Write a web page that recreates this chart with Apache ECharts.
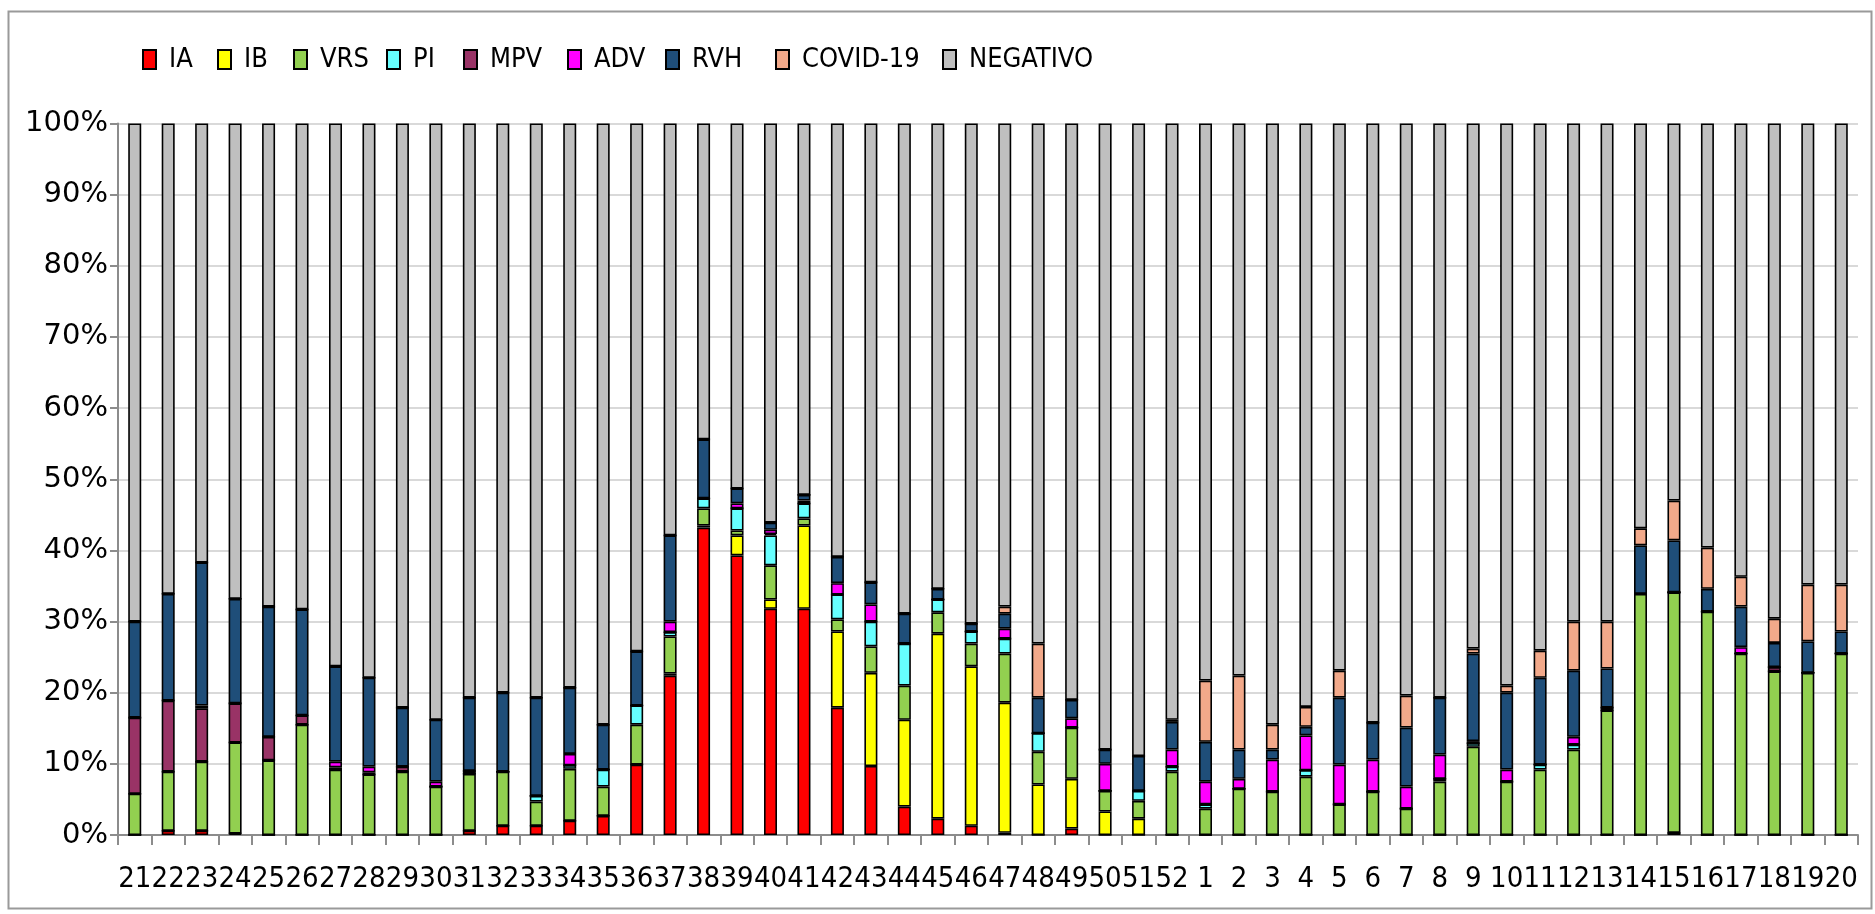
<!DOCTYPE html>
<html>
<head>
<meta charset="utf-8">
<script src="https://cdn.jsdelivr.net/npm/echarts/dist/echarts.min.js"></script>
<style>
html,body{margin:0;padding:0;background:#fff;}
#chart{width:1875px;height:914px;}
</style>
</head>
<body>
<div id="chart"></div>
<script>
var weeks = ['21','22','23','24','25','26','27','28','29','30','31','32','33','34','35','36','37','38','39','40','41','42','43','44','45','46','47','48','49','50','51','52','1','2','3','4','5','6','7','8','9','10','11','12','13','14','15','16','17','18','19','20'];

var IA = [0,0.6,0.6,0.2,0,0,0,0,0,0,0.6,1.3,1.3,2.0,2.7,9.9,22.4,43.2,39.3,31.8,31.8,17.9,9.7,4.0,2.3,1.3,0.3,0,0.9,0,0,0,0,0,0,0,0,0,0,0,0,0,0,0,0,0,0.3,0,0,0,0,0];
var IB = [0,0,0,0,0,0,0,0,0,0,0,0,0,0,0,0,0.3,0.3,2.8,1.3,11.7,10.7,13.1,12.2,26.0,22.4,18.3,7.1,7.0,3.3,2.3,0,0,0,0,0,0,0,0,0,0,0,0,0,0,0,0,0,0,0,0,0];
var VRS = [5.8,8.3,9.7,12.8,10.5,15.5,9.2,8.5,8.9,6.8,8.0,7.6,3.4,7.3,4.1,5.6,5.2,2.4,0.7,4.8,1.0,1.7,3.7,4.8,3.0,3.2,6.9,4.6,7.2,2.9,2.5,8.9,3.7,6.5,6.1,8.2,4.3,6.1,3.7,7.5,12.4,7.5,9.2,12.0,17.5,33.9,33.8,31.4,25.5,23.0,22.8,25.5];
var PI = [0,0,0,0,0,0,0,0,0,0,0,0,0.8,0.5,2.4,2.7,0.6,1.4,3.1,4.2,2.1,3.5,3.5,5.9,1.8,1.7,2.1,2.6,0,0,1.4,0.7,0.6,0,0,0.9,0,0,0,0.4,0.5,0,0.7,0.7,0,0,0,0,0,0,0,0];
var MPV = [10.7,10.0,7.5,5.5,3.3,1.3,0.3,0.3,0.7,0,0.4,0,0,0,0,0,0,0,0,0.2,0,0,0,0,0,0,0,0,0,0,0,0,0,0,0,0,0,0,0,0,0,0,0,0,0.4,0,0,0,0,0.6,0,0];
var ADV = [0,0,0.4,0,0,0,0.8,0.8,0,0.7,0,0,0,1.6,0,0,1.5,0,0.7,0.6,0.4,1.6,2.4,0,0,0,1.4,0,1.3,3.8,0,2.4,3.2,1.4,4.5,4.9,5.6,4.5,3.1,3.4,0.3,1.7,0,1.1,0,0,0,0,0.9,0,0,0];
var RVH = [13.5,15.0,20.1,14.7,18.3,14.9,13.4,12.5,8.3,8.7,10.3,11.1,13.8,9.3,6.3,7.6,12.1,8.3,2.1,1.0,0.8,3.7,3.1,4.2,1.5,1.1,2.1,5.0,2.6,2.0,4.9,3.9,5.6,4.1,1.4,1.2,9.4,5.2,8.3,8.0,12.3,10.8,12.2,9.3,5.5,6.8,7.3,3.2,5.7,3.4,4.4,3.1];
var COVID = [0,0,0,0,0,0,0,0,0,0,0,0,0,0,0,0,0,0,0,0,0,0,0,0,0,0,1.0,7.6,0,0,0,0.3,8.6,10.4,3.5,2.8,3.8,0,4.5,0,0.7,1.0,3.8,6.9,6.6,2.4,5.6,5.8,4.2,3.4,8.0,6.6];
var NEG = [70.0,66.1,61.7,66.8,67.9,68.3,76.3,77.9,82.1,83.8,80.7,80.0,80.7,79.3,84.5,74.2,57.9,44.4,51.3,56.1,52.2,60.9,64.5,68.9,65.4,70.3,67.9,73.1,81.0,88.0,88.9,83.8,78.3,77.6,84.5,82.0,76.9,84.2,80.4,80.7,73.8,79.0,74.1,70.0,70.0,56.9,53.0,59.6,63.7,69.6,64.8,64.8];

var seriesNames = ['IA','IB','VRS','PI','MPV','ADV','RVH','COVID-19','NEGATIVO'];
var seriesData = [IA, IB, VRS, PI, MPV, ADV, RVH, COVID, NEG];
var seriesColors = ['#FF0000','#FFFF00','#92D050','#66FFFF','#993366','#FF00FF','#1F4E79','#F2A98A','#BFBFBF'];
var yTicks = [0,10,20,30,40,50,60,70,80,90,100];

var narrow = '"DejaVu Sans Condensed","Liberation Sans Narrow","Liberation Sans",sans-serif';
var legendLeft = [142,217,293,386,463,567,665,775,942];

var chart = echarts.init(document.getElementById('chart'), null, {renderer:'canvas'});

var legends = seriesNames.map(function(n, i){
  return {
    data:[n], left:legendLeft[i], top:46, orient:'horizontal',
    icon:'rect', itemWidth:13, itemHeight:19, padding:0,
    textStyle:{fontFamily:narrow, fontSize:27, color:'#000', lineHeight:20, padding:[0,0,0,8]},
    selectedMode:false
  };
});

var series = seriesNames.map(function(n, i){
  return {
    name:n, type:'bar', stack:'total', data:seriesData[i],
    barWidth:13,
    itemStyle:{color:seriesColors[i], borderColor:'#000', borderWidth:1.6},
    emphasis:{disabled:true},
    animation:false
  };
});

chart.setOption({
  animation:false,
  backgroundColor:'#fff',
  legend:legends,
  grid:{left:118, right:17, top:123.5, bottom:79, containLabel:false},
  xAxis:{
    type:'category', data:weeks,
    axisLine:{lineStyle:{color:'#8c8c8c', width:2}},
    axisTick:{show:true, length:10, lineStyle:{color:'#8c8c8c', width:2}},
    axisLabel:{interval:0, fontFamily:narrow, fontSize:29, color:'#000', margin:30}
  },
  yAxis:{
    type:'value', min:yTicks[0], max:yTicks[yTicks.length-1], interval:10,
    axisLine:{show:true, lineStyle:{color:'#8c8c8c', width:2}},
    axisTick:{show:true, length:8, lineStyle:{color:'#8c8c8c', width:2}},
    axisLabel:{formatter:'{value}%', fontFamily:'"DejaVu Sans",Verdana,sans-serif', fontSize:29, color:'#000', margin:10},
    splitLine:{show:true, lineStyle:{color:'#d9d9d9', width:2}}
  },
  graphic:[{
    type:'rect', left:6, top:9, z:-10,
    shape:{x:0, y:0, width:1863, height:897},
    style:{fill:'none', stroke:'#9a9a9a', lineWidth:2}
  }],
  series:series
});
</script>
</body>
</html>
